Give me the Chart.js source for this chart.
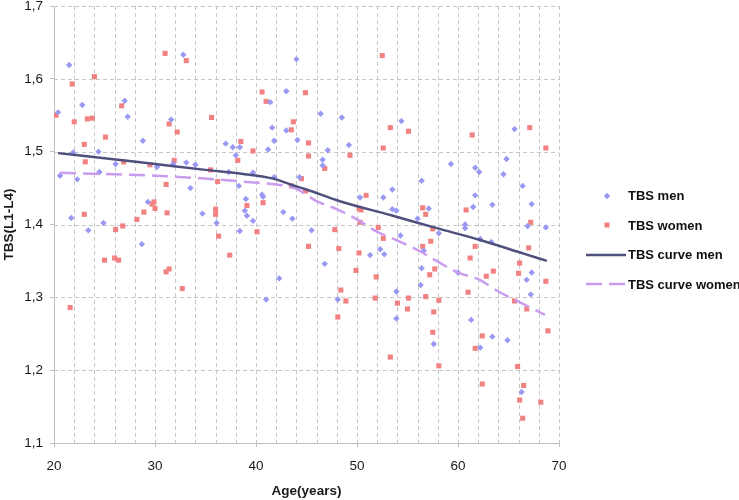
<!DOCTYPE html>
<html>
<head>
<meta charset="utf-8">
<title>TBS by age</title>
<script src="https://cdn.jsdelivr.net/npm/chart.js@4.4.1/dist/chart.umd.min.js"></script>
<style>
  html, body { margin: 0; padding: 0; background: #fff; }
  .chart-wrap { position: relative; width: 739px; height: 500px; }
  #tbsChart { position: absolute; left: 0; top: 0; }
  .legend {
    position: absolute; left: 586px; top: 181px;
    font: bold 13px "Liberation Sans", Arial, sans-serif; color: #111;
  }
  .legend-row { display: flex; align-items: center; height: 29.5px; white-space: nowrap; }
  .legend-row svg { margin-right: 2px; flex: none; }
</style>
</head>
<body>
<div class="chart-wrap">
  <canvas id="tbsChart" width="739" height="500"></canvas>
  <div id="legend" class="legend"></div>
</div>
<script>
/* TBS(L1-L4) vs age - men / women scatter with fitted curves */

const xMin = 20, xMax = 70, xStep = 2, xLabelEvery = 10;
const yMin = 1.1, yMax = 1.7, yStep = 0.1;

const seriesLabels = ['TBS men', 'TBS women', 'TBS curve men', 'TBS curve women'];

// TBS men (scatter)
const menAge = [20.4, 21.5, 21.9, 22.8, 24.4, 26.1, 27.0, 27.3, 28.8, 30.2, 31.6, 31.8, 32.8, 33.1, 34.0,
  37.0, 37.7, 38.0, 38.4, 44.0, 41.4, 43.0, 41.6, 43.0, 41.8, 44.1, 41.2, 46.4, 48.5, 47.1, 49.2, 46.6,
  46.6, 54.4, 59.3, 61.7, 65.6, 64.8, 62.1, 64.5, 66.4, 61.7, 20.6, 22.3, 24.5, 21.7, 23.4, 24.9, 28.7,
  29.3, 33.5, 34.7, 36.1, 37.3, 38.3, 39.0, 38.9, 39.1, 38.4, 39.7, 41.8, 44.3, 40.6, 40.7, 39.7, 42.7,
  43.6, 45.5, 46.8, 42.3, 41.0, 48.1, 50.3, 52.6, 53.5, 53.5, 53.9, 51.3, 52.3, 52.7, 54.3, 53.9, 53.9,
  56.4, 56.0, 57.1, 56.6, 56.4, 56.3, 58.1, 60.0, 60.7, 60.7, 61.5, 61.3, 63.4, 67.3, 66.9, 68.7, 62.2,
  63.3, 67.3, 66.8, 67.2, 63.4, 64.9, 62.2, 66.3, 57.6];
const menTbs = [1.554, 1.619, 1.499, 1.564, 1.500, 1.483, 1.570, 1.548, 1.515, 1.479, 1.544, 1.483, 1.633, 1.485, 1.482,
  1.511, 1.506, 1.495, 1.506, 1.627, 1.568, 1.583, 1.533, 1.529, 1.515, 1.516, 1.503, 1.552, 1.547, 1.502, 1.509, 1.489,
  1.481, 1.542, 1.483, 1.478, 1.531, 1.490, 1.472, 1.469, 1.453, 1.440, 1.467, 1.462, 1.472, 1.409, 1.392, 1.402, 1.373,
  1.431, 1.450, 1.415, 1.402, 1.472, 1.453, 1.435, 1.419, 1.412, 1.391, 1.471, 1.465, 1.465, 1.441, 1.438, 1.405, 1.417,
  1.408, 1.392, 1.346, 1.326, 1.297, 1.297, 1.437, 1.437, 1.448, 1.421, 1.419, 1.358, 1.366, 1.359, 1.385, 1.308, 1.271,
  1.460, 1.408, 1.422, 1.364, 1.340, 1.317, 1.388, 1.334, 1.400, 1.395, 1.424, 1.269, 1.427, 1.428, 1.398, 1.396, 1.380,
  1.376, 1.334, 1.324, 1.304, 1.246, 1.241, 1.231, 1.170, 1.236];

// TBS women (scatter)
const womenAge = [20.2, 21.8, 22.0, 23.0, 23.1, 23.3, 23.8, 24.0, 25.1, 26.7, 26.9, 29.5, 31.0, 31.4, 31.9,
  32.2, 33.1, 35.6, 35.5, 38.2, 38.5, 40.6, 41.0, 44.9, 43.7, 43.5, 45.2, 45.2, 39.7, 46.8, 49.3, 52.5,
  53.3, 52.6, 55.1, 61.4, 67.1, 68.7, 23.0, 21.6, 25.0, 26.0, 26.4, 26.1, 26.8, 28.2, 28.9, 29.7, 29.9,
  30.0, 31.1, 31.2, 31.1, 31.4, 32.7, 36.0, 36.0, 36.2, 36.3, 37.4, 39.1, 44.5, 43.5, 44.9, 40.7, 40.1,
  45.2, 47.8, 48.2, 48.4, 48.9, 48.1, 50.9, 50.2, 50.4, 50.3, 52.1, 52.6, 50.2, 49.9, 51.9, 51.8, 54.0,
  55.0, 55.1, 56.5, 56.8, 57.5, 57.3, 56.5, 57.7, 57.2, 56.8, 58.1, 57.6, 60.8, 61.7, 61.2, 61.0, 67.2,
  67.0, 66.1, 66.0, 63.5, 62.8, 65.6, 66.8, 68.7, 68.9, 62.4, 61.7, 65.9, 62.4, 66.5, 66.1, 68.2, 66.4,
  57.5, 53.3, 58.1];
const womenTbs = [1.550, 1.593, 1.541, 1.510, 1.486, 1.545, 1.546, 1.603, 1.520, 1.563, 1.486, 1.482, 1.635, 1.538, 1.488,
  1.527, 1.625, 1.547, 1.475, 1.488, 1.514, 1.582, 1.569, 1.581, 1.541, 1.530, 1.512, 1.494, 1.501, 1.477, 1.495, 1.632,
  1.533, 1.505, 1.528, 1.523, 1.533, 1.505, 1.414, 1.286, 1.351, 1.354, 1.351, 1.393, 1.398, 1.407, 1.417, 1.428, 1.431,
  1.422, 1.455, 1.416, 1.335, 1.339, 1.312, 1.421, 1.414, 1.459, 1.384, 1.358, 1.426, 1.463, 1.453, 1.446, 1.430, 1.390,
  1.370, 1.393, 1.367, 1.310, 1.295, 1.273, 1.440, 1.422, 1.420, 1.403, 1.396, 1.381, 1.361, 1.337, 1.328, 1.299, 1.292,
  1.284, 1.299, 1.423, 1.414, 1.394, 1.377, 1.370, 1.339, 1.331, 1.301, 1.296, 1.280, 1.420, 1.370, 1.354, 1.307, 1.403,
  1.368, 1.347, 1.333, 1.336, 1.329, 1.295, 1.284, 1.322, 1.254, 1.247, 1.230, 1.205, 1.181, 1.179, 1.159, 1.156, 1.134,
  1.252, 1.218, 1.206];

// fitted curves
const curveMenAge = [20.4, 25, 30, 35, 38.4, 41.7, 43.4, 45, 48.3, 53.3, 57.9, 62.1, 66.5, 68.8];
const curveMenTbs = [1.498, 1.491, 1.483, 1.475, 1.470, 1.463, 1.455, 1.448, 1.432, 1.413, 1.395, 1.379, 1.360, 1.350];
const curveWomenAge = [20.6, 30, 36, 39.4, 42, 44, 46, 48, 50, 52, 54, 56, 58, 60, 62, 64, 66, 68.6];
const curveWomenTbs = [1.471, 1.467, 1.462, 1.458, 1.455, 1.449, 1.432, 1.421, 1.407, 1.390, 1.378, 1.365, 1.349, 1.334, 1.325, 1.308, 1.294, 1.276];

const COLORS = {
  men: '#9999f4',
  women: '#f28282',
  curveMen: '#50507e',
  curveWomen: '#c99cf0',
  grid: '#c6c6c6',
  axis: '#c0c0c0',
  text: '#1a1a1a'
};
const FONT_FAMILY = '"Liberation Sans", Arial, sans-serif';
const GRID_DASH = [4, 3];

const toPoints = (xs, ys) => xs.map((x, i) => ({ x: x, y: ys[i] }));

const datasets = [
  {
    label: seriesLabels[0],
    data: toPoints(menAge, menTbs),
    pointStyle: 'rectRot',
    pointRadius: 3.2,
    pointHoverRadius: 3.2,
    backgroundColor: COLORS.men,
    borderWidth: 0,
    order: 1
  },
  {
    label: seriesLabels[1],
    data: toPoints(womenAge, womenTbs),
    pointStyle: 'rect',
    pointRadius: 3.6,
    pointHoverRadius: 3.6,
    backgroundColor: COLORS.women,
    borderWidth: 0,
    order: 1
  },
  {
    label: seriesLabels[2],
    data: toPoints(curveMenAge, curveMenTbs),
    showLine: true,
    pointRadius: 0,
    borderColor: COLORS.curveMen,
    borderWidth: 2.5,
    cubicInterpolationMode: 'monotone',
    order: 0
  },
  {
    label: seriesLabels[3],
    data: toPoints(curveWomenAge, curveWomenTbs),
    showLine: true,
    pointRadius: 0,
    borderColor: COLORS.curveWomen,
    borderWidth: 2.5,
    borderDash: [16, 7],
    cubicInterpolationMode: 'monotone',
    order: 0
  }
];

/* ------------------------------------------------
   Dashed grid (drawn under the datasets)
------------------------------------------------ */
const dashedGrid = {
  id: 'dashedGrid',
  beforeDatasetsDraw(chart) {
    const { ctx, chartArea: area, scales } = chart;
    ctx.save();
    ctx.strokeStyle = COLORS.grid;
    ctx.lineWidth = 1;
    ctx.setLineDash(GRID_DASH);

    scales.x.ticks.forEach((t, i) => {
      if (i === 0) return; // the y axis line itself
      const px = Math.round(scales.x.getPixelForValue(t.value)) + 0.5;
      ctx.beginPath();
      ctx.moveTo(px, area.top);
      ctx.lineTo(px, area.bottom);
      ctx.stroke();
    });

    scales.y.ticks.forEach((t, i) => {
      if (i === 0) return; // the x axis line itself
      const py = Math.round(scales.y.getPixelForValue(t.value)) + 0.5;
      ctx.beginPath();
      ctx.moveTo(area.left, py);
      ctx.lineTo(area.right, py);
      ctx.stroke();
    });
    ctx.restore();
  }
};

/* ------------------------------------------------
   Custom legend (right side)
------------------------------------------------ */
function legendKey(ds) {
  if (ds.showLine) {
    const dash = ds.borderDash ? ` stroke-dasharray="${ds.borderDash.join(' ')}"` : '';
    return `<line x1="0" y1="6" x2="40" y2="6" stroke="${ds.borderColor}" stroke-width="${ds.borderWidth}"${dash}/>`;
  }
  if (ds.pointStyle === 'rectRot') {
    return `<polygon points="21,2.8 24.2,6 21,9.2 17.8,6" fill="${ds.backgroundColor}"/>`;
  }
  return `<rect x="18.5" y="3.5" width="5" height="5" fill="${ds.backgroundColor}"/>`;
}

function renderLegend(items) {
  const container = document.getElementById('legend');
  if (!container) return;
  container.innerHTML = items.map(ds => `
      <div class="legend-row">
        <svg width="40" height="12">${legendKey(ds)}</svg>
        <span>${ds.label}</span>
      </div>
    `).join('');
}

/* ------------------------------------------------
   Chart
------------------------------------------------ */
const axisFont = { family: FONT_FAMILY, size: 13.5 };
const titleFont = { family: FONT_FAMILY, size: 13.5, weight: 'bold' };

new Chart(document.getElementById('tbsChart'), {
  type: 'scatter',
  data: { datasets: datasets },
  plugins: [dashedGrid],
  options: {
    responsive: false,
    animation: false,
    layout: { padding: { left: 0, right: 180, top: 0, bottom: 0 } },
    plugins: {
      legend: { display: false },
      tooltip: { enabled: false }
    },
    scales: {
      x: {
        type: 'linear',
        min: xMin,
        max: xMax,
        afterFit: (scale) => {
          scale.height = 57;
          scale.paddingLeft = 0;
          scale.paddingRight = 0;
        },
        ticks: {
          stepSize: xStep,
          autoSkip: false,
          maxRotation: 0,
          padding: 11,
          color: COLORS.text,
          font: axisFont,
          callback: (v) => (v % xLabelEvery === 0 ? v : '')
        },
        grid: {
          drawOnChartArea: false,
          tickLength: 4,
          tickColor: (ctx) => (ctx.tick && ctx.tick.value % xLabelEvery === 0 ? COLORS.axis : 'rgba(0,0,0,0)')
        },
        border: { color: COLORS.axis },
        title: {
          display: true,
          text: 'Age(years)',
          color: COLORS.text,
          font: titleFont,
          padding: { top: 0, bottom: 1 }
        }
      },
      y: {
        min: yMin,
        max: yMax,
        afterFit: (scale) => {
          scale.width = 54;
          scale.paddingTop = 6;
          scale.paddingBottom = 0;
        },
        ticks: {
          stepSize: yStep,
          padding: 7,
          color: COLORS.text,
          font: axisFont,
          callback: (v) => v.toFixed(1).replace('.', ',')
        },
        grid: { drawOnChartArea: false, tickLength: 4, tickColor: COLORS.axis },
        border: { color: COLORS.axis },
        title: {
          display: true,
          text: 'TBS(L1-L4)',
          color: COLORS.text,
          font: titleFont,
          padding: { top: 1, bottom: 0 }
        }
      }
    }
  }
});

renderLegend(datasets);
</script>
</body>
</html>
